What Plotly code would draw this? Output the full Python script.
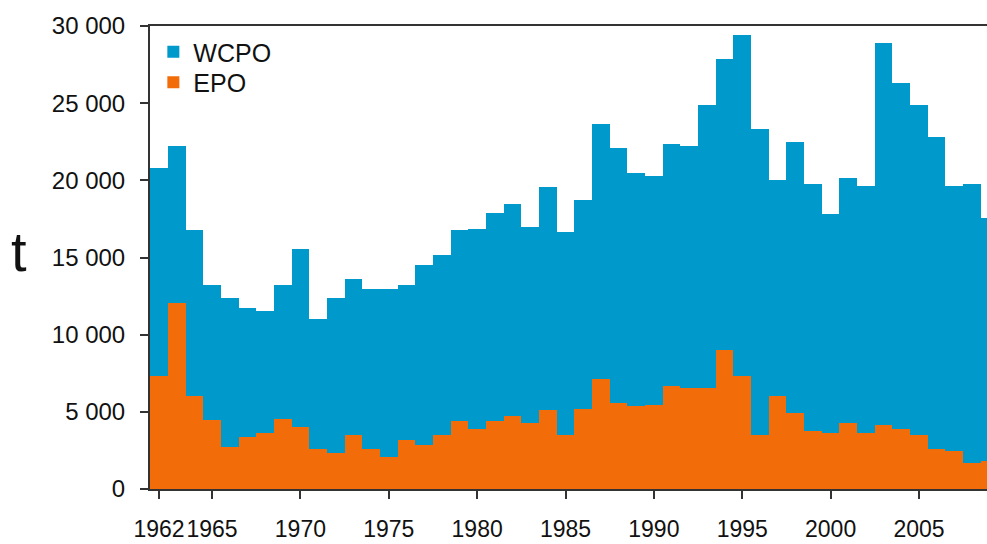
import plotly.graph_objects as go

# Annual catch (tonnes) by region
years = list(range(1962, 2010))
epo = [7300, 12050, 6000, 4450, 2750, 3350, 3650, 4550, 4050, 2600,
       2350, 3500, 2600, 2100, 3150, 2850, 3500, 4400, 3900, 4400,
       4700, 4300, 5100, 3500, 5200, 7150, 5600, 5400, 5450, 6650,
       6550, 6550, 9000, 7300, 3500, 6000, 4900, 3750, 3650, 4300,
       3650, 4150, 3900, 3500, 2600, 2450, 1700, 1800]
wcpo = [13500, 10200, 10750, 8750, 9650, 8400, 7900, 8650, 11500, 8400,
        10050, 10100, 10350, 10850, 10050, 11650, 11650, 12350, 12950, 13500,
        13750, 12700, 14500, 13150, 13500, 16500, 16500, 15050, 14850, 15700,
        15700, 18300, 18850, 22100, 19800, 14000, 17600, 16000, 14150, 15850,
        16000, 24750, 22400, 21350, 20200, 17200, 18050, 15750]

x_tickvals = [1962, 1965, 1970, 1975, 1980, 1985, 1990, 1995, 2000, 2005]
x_ticktext = ["1962", "1965", "1970", "1975", "1980",
              "1985", "1990", "1995", "2000", "2005"]
y_tickvals = [0, 5000, 10000, 15000, 20000, 25000, 30000]
y_ticktext = ["0", "5 000", "10 000", "15 000", "20 000", "25 000", "30 000"]

BLUE = "#0099CC"
ORANGE = "#F26C09"
AXIS = "#333333"
TEXT = "#111111"
FONT = "Liberation Sans, Arial, sans-serif"

legend_style = dict(xanchor="left", yanchor="top", bgcolor="rgba(0,0,0,0)",
                    font=dict(size=25, family=FONT, color=TEXT))

fig = go.Figure()
fig.add_trace(go.Bar(x=years, y=epo, name="EPO", legend="legend2",
                     marker=dict(color=ORANGE, line=dict(width=0))))
fig.add_trace(go.Bar(x=years, y=wcpo, name="WCPO", legend="legend",
                     marker=dict(color=BLUE, line=dict(width=0))))

fig.update_layout(
    width=987, height=544,
    margin=dict(l=150, r=0, t=26, b=55, autoexpand=False),
    barmode="stack", bargap=0,
    paper_bgcolor="white", plot_bgcolor="white",
    font=dict(family=FONT, color=TEXT),
    showlegend=True,
    legend=dict(x=0.004, y=0.9935, **legend_style),
    legend2=dict(x=0.004, y=0.9276, **legend_style),
    xaxis=dict(range=[1961.49, 2008.85], tickvals=x_tickvals, ticktext=x_ticktext,
               tickangle=0, automargin=False, ticklabelstandoff=10,
               showgrid=False, zeroline=False, showline=True, linecolor=AXIS, linewidth=2,
               mirror=True, ticks="outside", ticklen=8, tickwidth=2, tickcolor=AXIS,
               tickfont=dict(size=23, family=FONT, color=TEXT)),
    yaxis=dict(range=[0, 30000], tickvals=y_tickvals, ticktext=y_ticktext,
               automargin=False,
               showgrid=False, zeroline=False, showline=True, linecolor=AXIS, linewidth=2,
               ticks="outside", ticklen=8, tickwidth=2, tickcolor=AXIS,
               ticklabelstandoff=10,
               tickfont=dict(size=24, family=FONT, color=TEXT)),
    annotations=[dict(text="t", xref="paper", yref="paper", x=-0.156, y=0.512,
                      xanchor="center", yanchor="middle", showarrow=False,
                      font=dict(size=56, family=FONT, color=TEXT))],
)

fig.write_html("out.html")
